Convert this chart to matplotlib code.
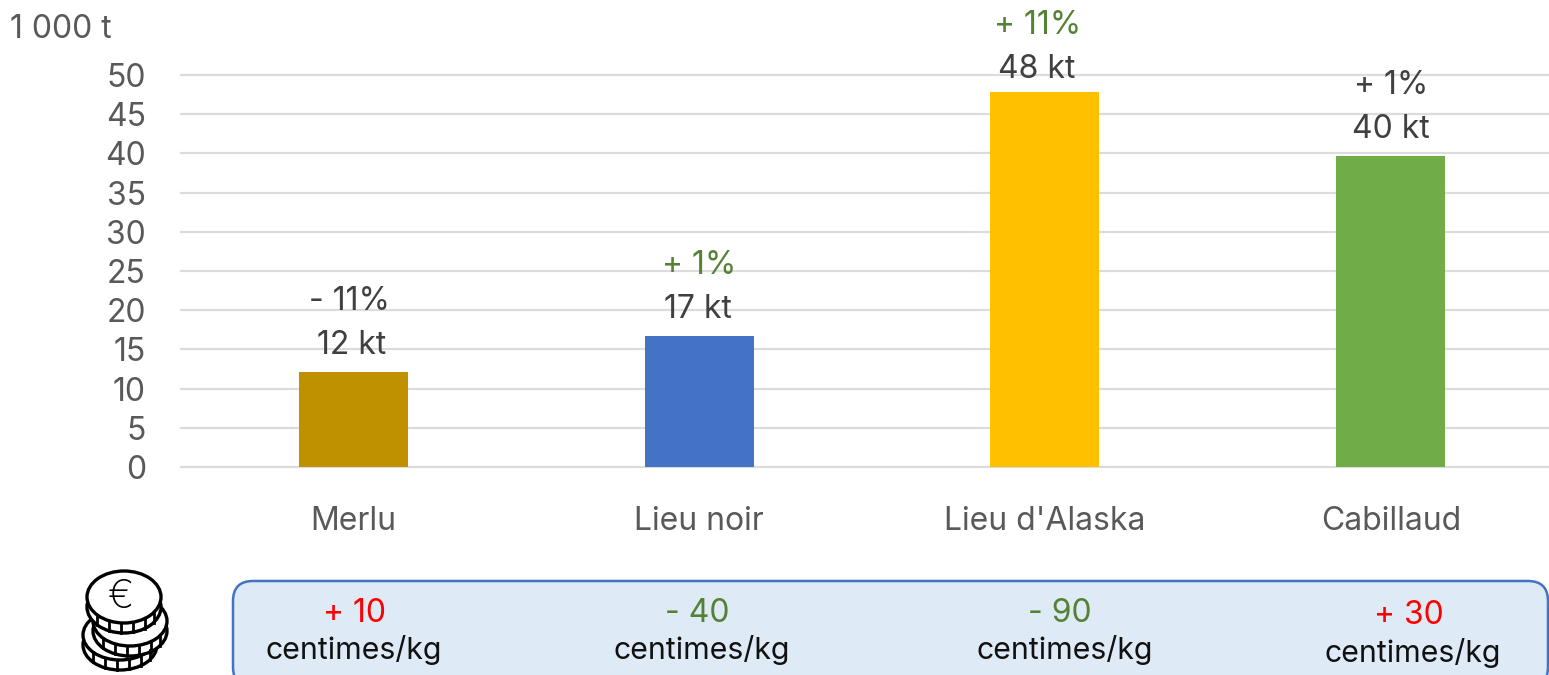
import matplotlib
matplotlib.use("Agg")
import matplotlib.pyplot as plt
from matplotlib.patches import Ellipse, FancyBboxPatch

W, H = 1549, 675

categories = ["Merlu", "Lieu noir", "Lieu d'Alaska", "Cabillaud"]
volumes = [12.1, 16.7, 47.8, 39.7]
volume_labels = ["12 kt", "17 kt", "48 kt", "40 kt"]
pct_labels = ["- 11%", "+ 1%", "+ 11%", "+ 1%"]
prix_labels = ["+ 10", "- 40", "- 90", "+ 30"]
y_ticks = [0, 5, 10, 15, 20, 25, 30, 35, 40, 45, 50]

bar_colors = ["#BF9000", "#4472C4", "#FFC000", "#70AD47"]
pct_colors = ["#404040", "#548235", "#548235", "#404040"]
prix_colors = ["#FF0000", "#548235", "#548235", "#FF0000"]

plt.rcParams["font.family"] = ["Inter", "DejaVu Sans"]

fig = plt.figure(figsize=(W / 100, H / 100), dpi=100)

# axes run a bit past the right edge, like the cropped original
left, right, y0, y50 = 180.5, 1563.5, 467, 75
ax = fig.add_axes([left / W, 1 - y0 / H, (right - left) / W, (y0 - y50) / H])
ax.set_xlim(-0.5, 3.5)
ax.set_ylim(0, 50)
ax.bar(range(4), volumes, width=0.315, color=bar_colors, zorder=3)
ax.set_yticks(y_ticks)
ax.set_xticks([])
ax.grid(axis="y", color="#DCDCDC", linewidth=1.6, zorder=0, clip_on=False)
ax.tick_params(axis="y", length=0, pad=25, labelsize=23, labelcolor="#595959")
for side in ax.spines.values():
    side.set_visible(False)

# overlay in pixel coordinates for the annotations and the price box
ov = fig.add_axes([0, 0, 1, 1])
ov.set_xlim(0, W)
ov.set_ylim(H, 0)
ov.axis("off")
ov.patch.set_alpha(0)

ov.text(10, 29, "1 000 t", fontsize=23, color="#595959", ha="left", va="center")

cat_x = [353, 699, 1045, 1391]
for x, label in zip(cat_x, categories):
    ov.text(x, 521, label, fontsize=23, color="#595959", ha="center", va="center")

vol_pos = [(352, 345), (698, 309), (1037, 70), (1391, 129)]
pct_pos = [(350, 301), (699, 265), (1038, 25), (1391, 85)]
for (x, y), label in zip(vol_pos, volume_labels):
    ov.text(x, y, label, fontsize=23, color="#404040", ha="center", va="center")
for (x, y), label, c in zip(pct_pos, pct_labels, pct_colors):
    ov.text(x, y, label, fontsize=23, color=c, ha="center", va="center")

box = FancyBboxPatch((233, 581), 1315, 106, boxstyle="round,pad=0,rounding_size=20",
                     facecolor="#DEEAF6", edgecolor="#4472C4", linewidth=1.8)
ov.add_patch(box)

prix_pos = [(355, 614), (697, 613), (1060, 613), (1409, 615)]
unit_pos = [(354, 650), (702, 650), (1065, 650), (1413, 653)]
for (x, y), label, c in zip(prix_pos, prix_labels, prix_colors):
    ov.text(x, y, label, fontsize=23, color=c, ha="center", va="center")
for x, y in unit_pos:
    ov.text(x, y, "centimes/kg", fontsize=21.8, color="#111111", ha="center", va="center")


def coin(cx, cy, w, h, rim):
    # one coin: rim ellipse behind, face ellipse on top, notches between
    ov.add_patch(Ellipse((cx, cy + rim), w, h, fc="white", ec="black", lw=2.4))
    for off in (-0.36, -0.2, -0.04, 0.12, 0.28, 0.4):
        px = cx + off * w
        py = cy + h / 2 * (1 - (2 * off) ** 2) ** 0.5
        ov.plot([px, px], [py, py + rim], color="black", lw=2)
    ov.add_patch(Ellipse((cx, cy), w, h, fc="white", ec="black", lw=2.4))


coin(120, 635, 74, 50, 10)
coin(130, 621, 74, 50, 10)
coin(124, 597, 74, 52, 10)
ov.text(121, 598, "€", fontsize=28, color="black", ha="center", va="center",
        family="Inter", fontweight="light")

fig.savefig("out.png", dpi=100)
